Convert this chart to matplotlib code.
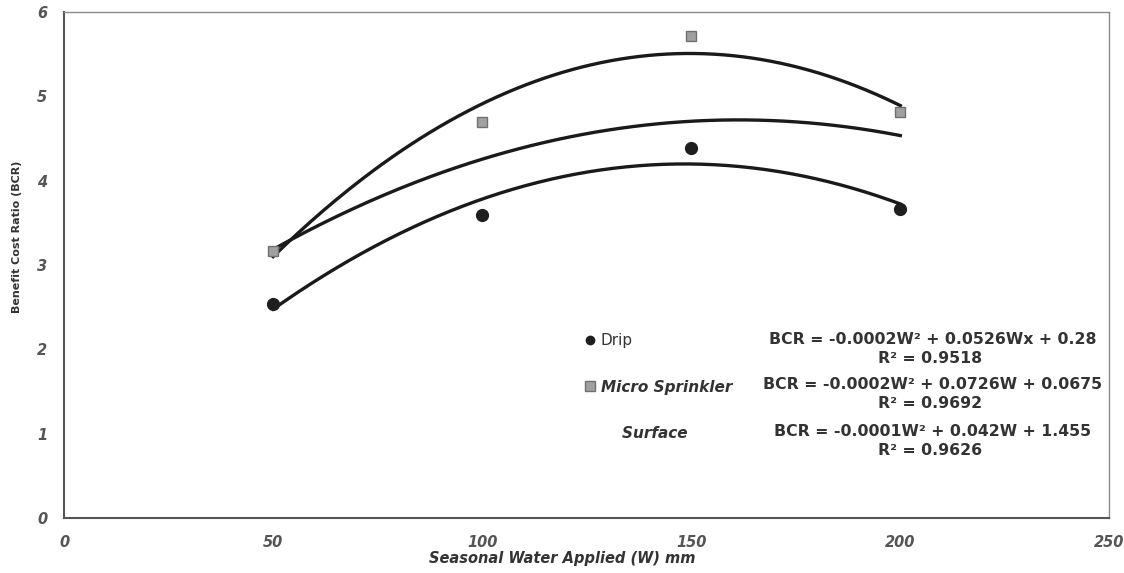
import numpy as np
import matplotlib
matplotlib.use("Agg")
import matplotlib.pyplot as plt
from matplotlib.lines import Line2D

plt.rcParams['font.family'] = ['DejaVu Sans']

# values
water = [50, 100, 150, 200]
drip = [2.54, 3.59, 4.39, 3.66]
micro = [3.17, 4.70, 5.72, 4.82]
surface = [3.20, 4.21, 4.75, 4.52]  # no markers visible, only the trend line

series_names = ['Drip', 'Micro Sprinkler', '    Surface']
equations = ['BCR = -0.0002W² + 0.0526Wx + 0.28',
             'BCR = -0.0002W² + 0.0726W + 0.0675',
             'BCR = -0.0001W² + 0.042W + 1.455']
r2_labels = ['R² = 0.9518', 'R² = 0.9692', 'R² = 0.9626']

xticks = [0, 50, 100, 150, 200, 250]
yticks = [0, 1, 2, 3, 4, 5, 6]

fig = plt.figure(figsize=(11.24, 5.73), dpi=100)
ax = fig.add_axes([0.057, 0.096, 0.930, 0.883])

# second order trend lines fitted to each series
xs = np.linspace(min(water), max(water), 200)
for vals in [drip, micro, surface]:
    coef = np.polyfit(water, vals, 2)
    ax.plot(xs, np.polyval(coef, xs), color='#1a1a1a', lw=2.4, zorder=2)

ax.plot(water, drip, 'o', color='#1e1e1e', ms=8.5, zorder=3)
ax.plot(water, micro, 's', color='#a0a0a0', mec='#707070', ms=7.5, zorder=3)

ax.set_xlim(0, 250)
ax.set_ylim(0, 6)
ax.set_xticks(xticks)
ax.set_yticks(yticks)
ax.tick_params(length=0, labelsize=10.5, labelcolor='#555555')
ax.tick_params(axis='x', pad=12)
ax.tick_params(axis='y', pad=12)
for lab in ax.get_xticklabels() + ax.get_yticklabels():
    lab.set_fontweight('bold')
    lab.set_fontstyle('italic')

for side in ['top', 'right']:
    ax.spines[side].set_color('#8a8a8a')
    ax.spines[side].set_linewidth(1.0)
    ax.spines[side].set_linestyle((0, (4, 1)))
for side in ['left', 'bottom']:
    ax.spines[side].set_color('#555555')
    ax.spines[side].set_linewidth(1.5)

ax.set_xlabel('Seasonal Water Applied (W) mm', fontsize=10.5, fontweight='bold',
              fontstyle='italic', color='#333333')
ax.xaxis.set_label_coords(0.477, -0.066)
ax.set_ylabel('Benefit Cost Ratio (BCR)', fontsize=8, fontweight='bold', color='#333333')
ax.yaxis.set_label_coords(-0.040, 0.555)

# legend with the fitted equations beside it
handles = [Line2D([], [], marker='o', ls='', color='#1e1e1e', ms=6),
           Line2D([], [], marker='s', ls='', color='#a0a0a0', mec='#707070', ms=6.5),
           Line2D([], [], ls='', marker='')]
leg = ax.legend(handles, series_names, loc='upper left', bbox_to_anchor=(0.493, 0.377),
                frameon=False, handlelength=0.6, handletextpad=0.4, labelspacing=2.05,
                borderaxespad=0,
                prop={'size': 11, 'weight': 'bold', 'style': 'italic'})
for t in leg.get_texts():
    t.set_color('#333333')
leg.get_texts()[0].set_fontweight('normal')
leg.get_texts()[0].set_fontstyle('normal')

rows = [0.352, 0.263, 0.170]
for eq, r2, yy in zip(equations, r2_labels, rows):
    ax.text(0.831, yy, eq, transform=ax.transAxes, ha='center', va='center',
            fontsize=11.3, fontweight='bold', color='#333333')
    ax.text(0.828, yy - 0.036, r2, transform=ax.transAxes, ha='center', va='center',
            fontsize=11.3, fontweight='bold', color='#333333')

fig.savefig('out.png', dpi=100, facecolor='white')
